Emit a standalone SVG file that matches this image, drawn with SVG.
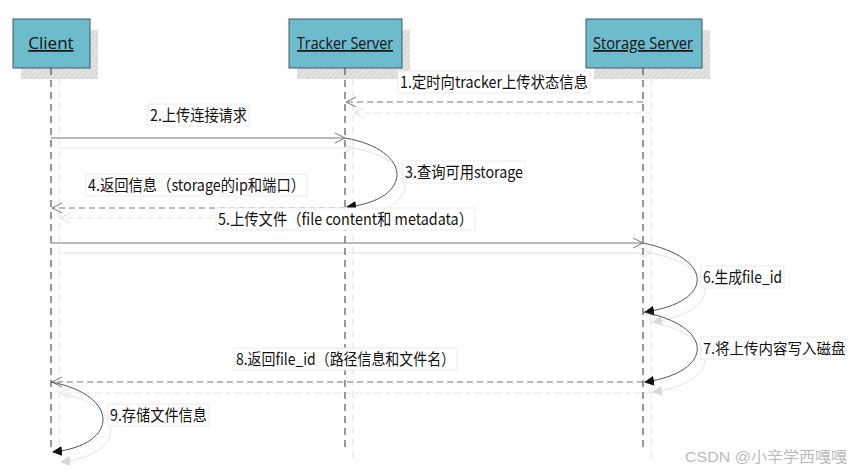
<svg xmlns="http://www.w3.org/2000/svg" width="853" height="471" viewBox="0 0 853 471">
<defs>
<pattern id="hatch" width="4" height="4" patternUnits="userSpaceOnUse" patternTransform="rotate(45)">
<rect width="4" height="4" fill="#e2e2e2"/>
<line x1="0" y1="0" x2="0" y2="4" stroke="#d0d0d0" stroke-width="1.5"/>
</pattern>
<marker id="open" viewBox="0 0 12 12" refX="11" refY="6" markerWidth="12" markerHeight="12" markerUnits="userSpaceOnUse" orient="auto">
<path d="M1,1 L11,6 L1,11" fill="none" stroke="#777" stroke-width="1"/>
</marker>
<marker id="openS" viewBox="0 0 12 12" refX="11" refY="6" markerWidth="12" markerHeight="12" markerUnits="userSpaceOnUse" orient="auto">
<path d="M1,1 L11,6 L1,11" fill="none" stroke="#e2e2e2" stroke-width="1"/>
</marker>
<marker id="fill" viewBox="0 0 10 10" refX="9" refY="5" markerWidth="10" markerHeight="10" markerUnits="userSpaceOnUse" orient="auto">
<path d="M0,0 L10,5 L0,10 z" fill="#111"/>
</marker>
<marker id="fillS" viewBox="0 0 10 10" refX="9" refY="5" markerWidth="10" markerHeight="10" markerUnits="userSpaceOnUse" orient="auto">
<path d="M0,0 L10,5 L0,10 z" fill="#d8d8d8"/>
</marker>
</defs>
<style>
.box{fill:#6cbccd;stroke:#3d5866;stroke-width:1}
.shadowbox{fill:url(#hatch)}
.title{font-family:"Open Sans","Noto Sans",sans-serif;font-size:17px;fill:#111;text-anchor:middle;text-decoration:underline}
.life{stroke:#555;stroke-width:1.2;stroke-dasharray:7 5;fill:none}
.lifeS{stroke:#e4e4e4;stroke-width:1.2;stroke-dasharray:7 5;fill:none}
.msg{stroke:#777;stroke-width:1;fill:none}
.msgS{stroke:#e4e4e4;stroke-width:1;fill:none}
.dash{stroke-dasharray:6 4}
.curve{stroke:#555;stroke-width:1;fill:none}
.curveS{stroke:#e4e4e4;stroke-width:1;fill:none}
.lblbg{fill:#fff;stroke:#ececec;stroke-width:1}
.lbl{font-family:"Noto Sans CJK SC","Noto Sans",sans-serif;font-size:16px;fill:#111}
.wm{font-family:"Liberation Sans","Noto Sans CJK SC",sans-serif;font-size:15px;fill:#bbb}
</style>
<rect width="853" height="471" fill="#fff"/>

<g id="shadows">
<rect class="shadowbox" x="21" y="30" width="77" height="49"/>
<rect class="shadowbox" x="297" y="30" width="113" height="49"/>
<rect class="shadowbox" x="594" y="30" width="116" height="49"/>
<line class="lifeS" x1="59" y1="79" x2="59" y2="462"/>
<line class="lifeS" x1="353" y1="79" x2="353" y2="460"/>
<line class="lifeS" x1="651" y1="79" x2="651" y2="460"/>
<line class="msgS dash" x1="651" y1="113" x2="354" y2="113" marker-end="url(#openS)"/>
<line class="msgS" x1="59" y1="148" x2="353" y2="148" marker-end="url(#openS)"/>
<path class="curveS" d="M353,148 C422,160 422,210 355,217" marker-end="url(#fillS)"/>
<line class="msgS dash" x1="353" y1="218" x2="60" y2="218" marker-end="url(#openS)"/>
<line class="msgS" x1="59" y1="253" x2="651" y2="253" marker-end="url(#openS)"/>
<path class="curveS" d="M651,253 C723,268 723,312 653,322" marker-end="url(#fillS)"/>
<path class="curveS" d="M651,322 C723,336 723,382 653,392" marker-end="url(#fillS)"/>
<line class="msgS dash" x1="651" y1="393" x2="60" y2="393" marker-end="url(#openS)"/>
<path class="curveS" d="M59,393 C128,405 128,455 61,462" marker-end="url(#fillS)"/>
</g>

<g id="client">
<rect class="box" x="13" y="19" width="77" height="49"/>
<text class="title" x="51" y="49">Client</text>
</g>
<g id="tracker">
<rect class="box" x="289" y="19" width="113" height="49"/>
<text class="title" x="345" y="49" textLength="96" lengthAdjust="spacingAndGlyphs">Tracker Server</text>
</g>
<g id="storage">
<rect class="box" x="586" y="19" width="116" height="49"/>
<text class="title" x="643" y="49" textLength="100" lengthAdjust="spacingAndGlyphs">Storage Server</text>
</g>

<g id="connectors">
<line class="life" x1="51" y1="68" x2="51" y2="452"/>
<line class="life" x1="345" y1="68" x2="345" y2="450"/>
<line class="life" x1="643" y1="68" x2="643" y2="450"/>
<line class="msg dash" x1="643" y1="102" x2="346" y2="102" marker-end="url(#open)"/>
<line class="msg" x1="51" y1="138" x2="345" y2="138" marker-end="url(#open)"/>
<path class="curve" d="M345,138 C414,150 414,200 347,207" marker-end="url(#fill)"/>
<line class="msg dash" x1="345" y1="208" x2="52" y2="208" marker-end="url(#open)"/>
<line class="msg" x1="51" y1="243" x2="643" y2="243" marker-end="url(#open)"/>
<path class="curve" d="M643,243 C715,258 715,302 645,312" marker-end="url(#fill)"/>
<path class="curve" d="M643,312 C715,326 715,372 645,382" marker-end="url(#fill)"/>
<line class="msg dash" x1="643" y1="382" x2="52" y2="382" marker-end="url(#open)"/>
<path class="curve" d="M51,382 C120,395 120,445 53,452" marker-end="url(#fill)"/>
</g>

<g id="labels">
<g id="m1"><rect class="lblbg" x="398" y="71" width="192" height="22"/><text class="lbl" x="400" y="88" textLength="188" lengthAdjust="spacingAndGlyphs">1.定时向tracker上传状态信息</text></g>
<g id="m2"><rect class="lblbg" x="148" y="104" width="101" height="22"/><text class="lbl" x="150" y="121" textLength="97" lengthAdjust="spacingAndGlyphs">2.上传连接请求</text></g>
<g id="m3"><rect class="lblbg" x="403" y="161" width="122" height="22"/><text class="lbl" x="405" y="178" textLength="118" lengthAdjust="spacingAndGlyphs">3.查询可用storage</text></g>
<g id="m4"><rect class="lblbg" x="86" y="174" width="221" height="22"/><text class="lbl" x="88" y="191" textLength="217" lengthAdjust="spacingAndGlyphs">4.返回信息（storage的ip和端口）</text></g>
<g id="m5"><rect class="lblbg" x="216" y="208" width="259" height="22"/><text class="lbl" x="218" y="225" textLength="255" lengthAdjust="spacingAndGlyphs">5.上传文件（file content和 metadata）</text></g>
<g id="m6"><rect class="lblbg" x="701" y="266" width="83" height="22"/><text class="lbl" x="703" y="283" textLength="79" lengthAdjust="spacingAndGlyphs">6.生成file_id</text></g>
<g id="m7"><rect class="lblbg" x="701" y="337" width="144" height="22"/><text class="lbl" x="703" y="353.5" style="font-size:14.5px">7.将上传内容写入磁盘</text></g>
<g id="m8"><rect class="lblbg" x="234" y="348" width="223" height="22"/><text class="lbl" x="236" y="365" textLength="219" lengthAdjust="spacingAndGlyphs">8.返回file_id（路径信息和文件名）</text></g>
<g id="m9"><rect class="lblbg" x="108" y="404" width="101" height="22"/><text class="lbl" x="110" y="421" textLength="97" lengthAdjust="spacingAndGlyphs">9.存储文件信息</text></g>
</g>

<text class="wm" x="685" y="462" textLength="162" lengthAdjust="spacingAndGlyphs">CSDN @小辛学西嘎嘎</text>
</svg>
